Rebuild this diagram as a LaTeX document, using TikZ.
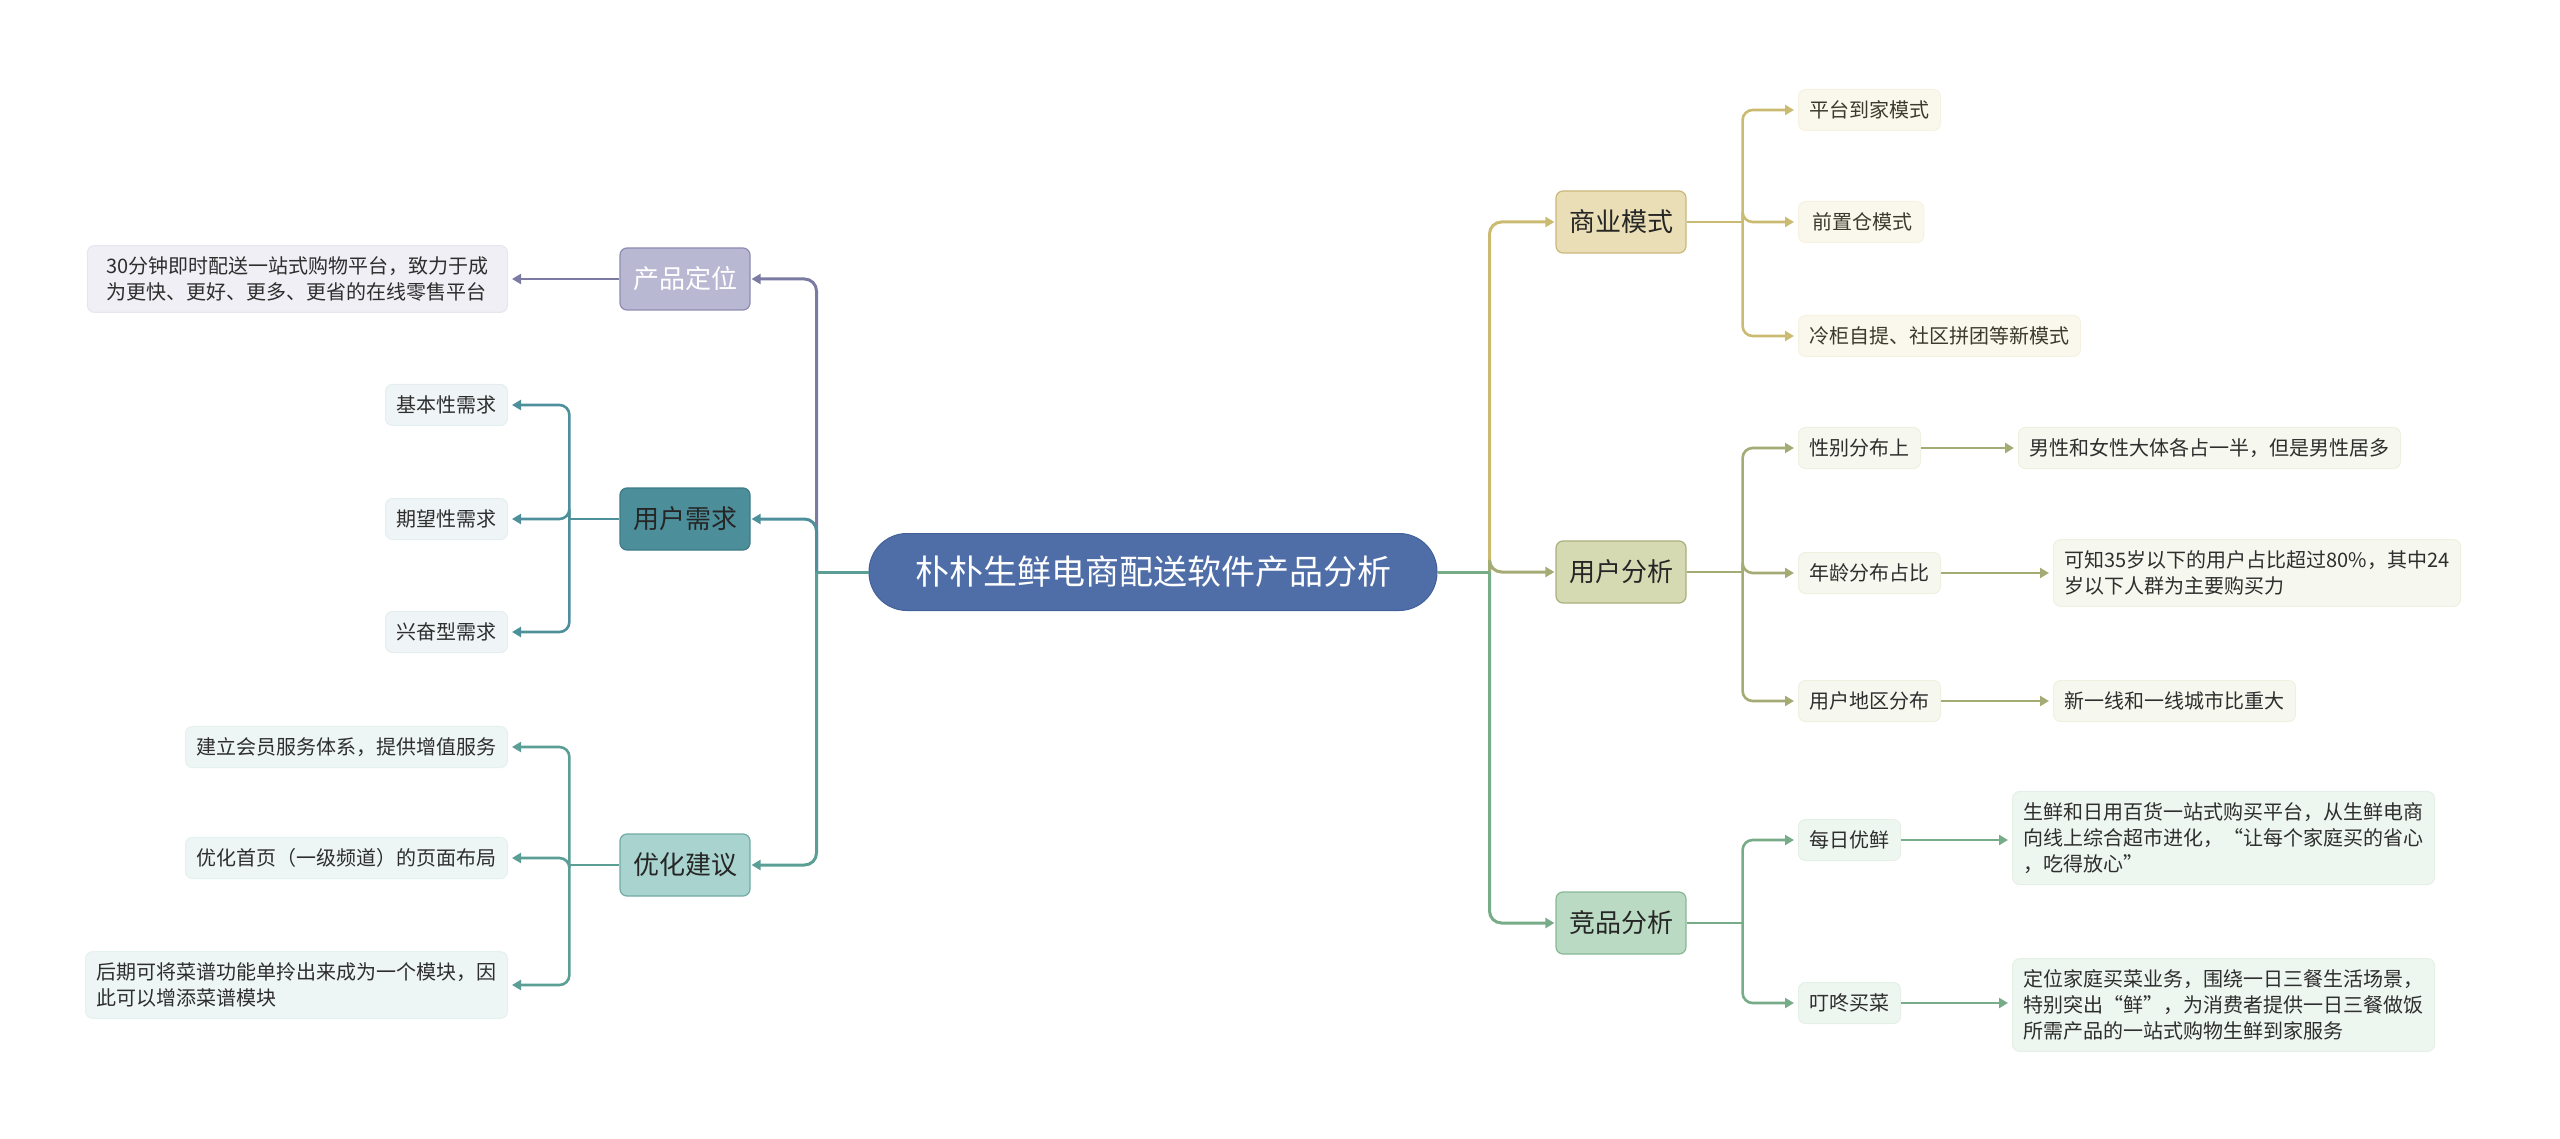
\documentclass[tikz,border=0pt]{standalone}
\usepackage{fontspec}
\setmainfont{Noto Sans CJK SC}
\usetikzlibrary{arrows.meta,positioning,calc}

\definecolor{rootfill}{HTML}{4F6EA8}
\definecolor{rootline}{HTML}{42619A}
\definecolor{pdfill}{HTML}{B9B8D2}
\definecolor{pdline}{HTML}{8E8CB2}
\definecolor{pdlink}{HTML}{7B7AA2}
\definecolor{xqfill}{HTML}{4C8E9A}
\definecolor{xqline}{HTML}{3C7B87}
\definecolor{xqlink}{HTML}{4D8F9B}
\definecolor{yhfill}{HTML}{A9D3CE}
\definecolor{yhline}{HTML}{72ABA4}
\definecolor{yhlink}{HTML}{5B9E95}
\definecolor{syfill}{HTML}{E9DEB5}
\definecolor{syline}{HTML}{C9B87C}
\definecolor{sylink}{HTML}{CBBB72}
\definecolor{yffill}{HTML}{D6DAB2}
\definecolor{yfline}{HTML}{A8AF7C}
\definecolor{yflink}{HTML}{A4AB74}
\definecolor{jpfill}{HTML}{BBDAC3}
\definecolor{jpline}{HTML}{88B795}
\definecolor{jplink}{HTML}{78AB87}

\begin{document}
\begin{tikzpicture}[x=1pt,y=-1pt,>={Triangle[length=9pt,width=10pt]},
  hub/.style={rounded corners=38pt,fill=rootfill,draw=rootline,line width=1pt,text=white,
    minimum width=568pt,minimum height=77pt,font=\fontsize{34}{40}\selectfont},
  topic/.style={rounded corners=7pt,line width=1.2pt,minimum width=130pt,minimum height=62pt,
    font=\fontsize{26}{30}\selectfont,text=black!85},
  leaf/.style={rounded corners=7pt,line width=1pt,inner xsep=11pt,inner ysep=11pt,
    minimum height=41pt,align=left,font=\fontsize{20}{26}\selectfont,text=black!82},
  link/.style={line width=3pt,rounded corners=12pt,->,shorten >=1pt},
  twig/.style={line width=2.6pt,rounded corners=10pt,->,shorten >=4pt},
  stub/.style={line width=2.6pt},
]
\useasboundingbox (0,0) rectangle (2560,1139);

\node[hub] (root) at (1153,572) {朴朴生鲜电商配送软件产品分析};

% main topics
\node[topic,fill=pdfill,draw=pdline,text=white] (pd) at (685,279) {产品定位};
\node[topic,fill=xqfill,draw=xqline] (xq) at (685,519) {用户需求};
\node[topic,fill=yhfill,draw=yhline] (yh) at (685,865) {优化建议};
\node[topic,fill=syfill,draw=syline] (sy) at (1621,222) {商业模式};
\node[topic,fill=yffill,draw=yfline] (yf) at (1621,572) {用户分析};
\node[topic,fill=jpfill,draw=jpline] (jp) at (1621,923) {竞品分析};

% left leaves
\node[leaf,anchor=east,inner xsep=19pt,fill=pdfill!22,draw=pdfill!35] (pd1) at (508,279)
  {30分钟即时配送一站式购物平台，致力于成\\为更快、更好、更多、更省的在线零售平台};
\node[leaf,anchor=east,fill=xqfill!9,draw=xqfill!15] (xq1) at (508,405) {基本性需求};
\node[leaf,anchor=east,fill=xqfill!9,draw=xqfill!15] (xq2) at (508,519) {期望性需求};
\node[leaf,anchor=east,fill=xqfill!9,draw=xqfill!15] (xq3) at (508,632) {兴奋型需求};
\node[leaf,anchor=east,fill=yhfill!20,draw=yhfill!32] (yh1) at (508,747) {建立会员服务体系，提供增值服务};
\node[leaf,anchor=east,fill=yhfill!20,draw=yhfill!32] (yh2) at (508,858) {优化首页（一级频道）的页面布局};
\node[leaf,anchor=east,fill=yhfill!20,draw=yhfill!32] (yh3) at (508,985)
  {后期可将菜谱功能单拎出来成为一个模块，因\\此可以增添菜谱模块};

% right leaves
\node[leaf,anchor=west,fill=syfill!25,draw=syfill!40,text=black!75!olive] (sy1) at (1798,110) {平台到家模式};
\node[leaf,anchor=west,fill=syfill!25,draw=syfill!40,text=black!75!olive] (sy2) at (1798,222) {\,前置仓模式};
\node[leaf,anchor=west,fill=syfill!25,draw=syfill!40,text=black!75!olive] (sy3) at (1798,336) {冷柜自提、社区拼团等新模式};
\node[leaf,anchor=west,fill=yffill!22,draw=yffill!40] (yf1) at (1798,448) {性别分布上};
\node[leaf,anchor=west,fill=yffill!22,draw=yffill!40] (yf2) at (1798,573) {年龄分布占比};
\node[leaf,anchor=west,fill=yffill!22,draw=yffill!40] (yf3) at (1798,701) {用户地区分布};
\node[leaf,anchor=west,fill=yffill!22,draw=yffill!40] (yf1a) at (2018,448) {男性和女性大体各占一半，但是男性居多};
\node[leaf,anchor=west,fill=yffill!22,draw=yffill!40] (yf2a) at (2053,573)
  {可知35岁以下的用户占比超过80\%，其中24\\岁以下人群为主要购买力};
\node[leaf,anchor=west,fill=yffill!22,draw=yffill!40] (yf3a) at (2053,701) {新一线和一线城市比重大};
\node[leaf,anchor=west,fill=jpfill!25,draw=jpfill!40] (jp1) at (1798,840) {每日优鲜};
\node[leaf,anchor=west,fill=jpfill!25,draw=jpfill!40] (jp2) at (1798,1003) {叮咚买菜};
\node[leaf,anchor=west,fill=jpfill!25,draw=jpfill!40] (jp1a) at (2012,838)
  {生鲜和日用百货一站式购买平台，从生鲜电商\\向线上综合超市进化，“让每个家庭买的省心\\，吃得放心”};
\node[leaf,anchor=west,fill=jpfill!25,draw=jpfill!40] (jp2a) at (2012,1005)
  {定位家庭买菜业务，围绕一日三餐生活场景，\\特别突出“鲜”，为消费者提供一日三餐做饭\\所需产品的一站式购物生鲜到家服务};

% junctions
\coordinate (jL) at ([xshift=-52pt]root.west);
\coordinate (jR) at ([xshift=52pt]root.east);
\coordinate (xqJ) at ([xshift=-50pt]xq.west);
\coordinate (yhJ) at ([xshift=-50pt]yh.west);
\coordinate (syJ) at ([xshift=56pt]sy.east);
\coordinate (yfJ) at ([xshift=56pt]yf.east);
\coordinate (jpJ) at ([xshift=56pt]jp.east);

% trunk, left
\draw[link,pdlink] (jL) |- (pd.east);
\draw[link,xqlink] (jL) |- (xq.east);
\draw[link,yhlink] (jL) |- (yh.east);
\draw[line width=3pt,yhlink] (root.west) -- (jL);

% trunk, right
\draw[link,sylink] (jR) |- (sy.west);
\draw[link,jplink] (jR) |- (jp.west);
\draw[link,yflink] (jR) |- (yf.west);
\draw[line width=3pt,jplink] (root.east) -- (jR);

% twigs
\draw[twig,pdlink] (pd.west) -- (pd1.east);
\draw[stub,xqlink] (xq.west) -- (xqJ);
\draw[stub,yhlink] (yh.west) -- (yhJ);
\draw[stub,sylink] (sy.east) -- (syJ);
\draw[stub,yflink] (yf.east) -- (yfJ);
\draw[stub,jplink] (jp.east) -- (jpJ);
\foreach \i in {1,2,3} {
  \draw[twig,xqlink] (xqJ) |- (xq\i.east);
  \draw[twig,yhlink] (yhJ) |- (yh\i.east);
  \draw[twig,sylink] (syJ) |- (sy\i.west);
  \draw[twig,yflink] (yfJ) |- (yf\i.west);
  \draw[twig,yflink] (yf\i.east) -- (yf\i a.west);
}
\foreach \i in {1,2} {
  \draw[twig,jplink] (jpJ) |- (jp\i.west);
  \draw[twig,jplink] (jp\i.east) -- (jp\i a.west |- jp\i.east);
}

\end{tikzpicture}
\end{document}
